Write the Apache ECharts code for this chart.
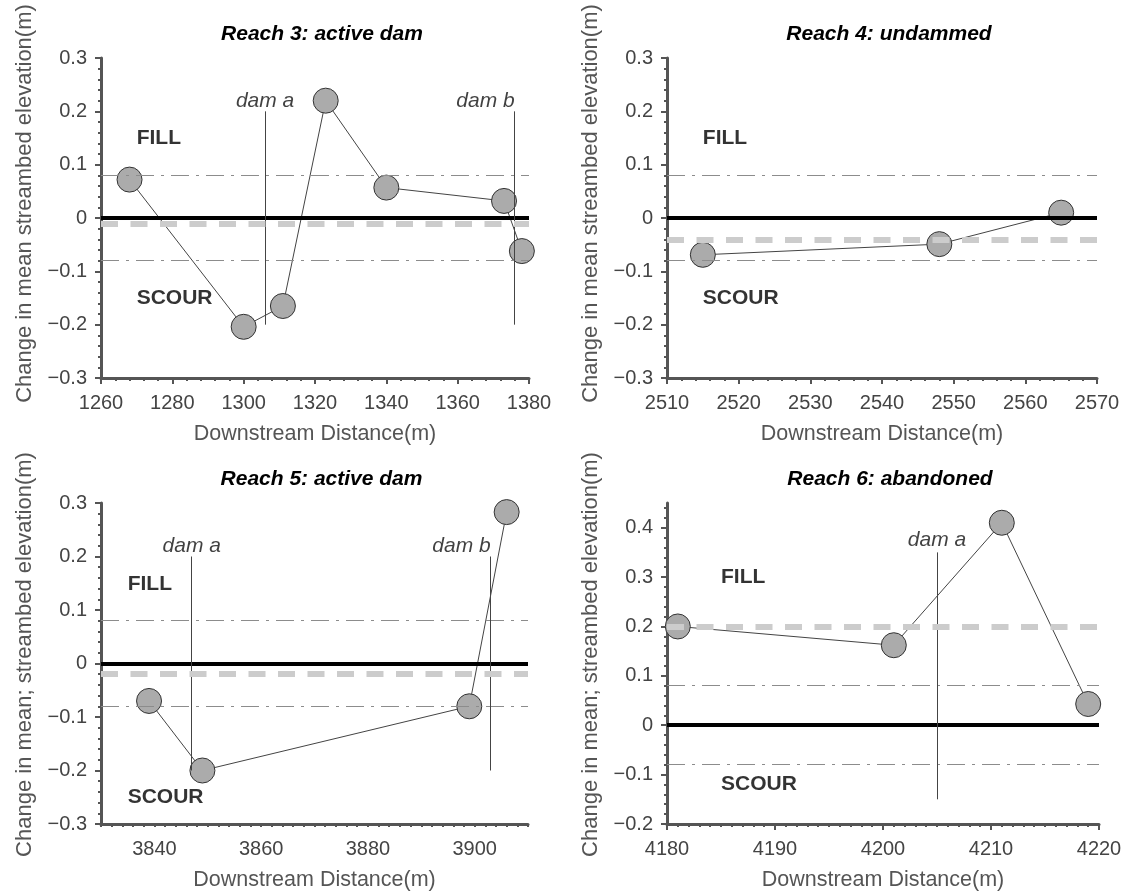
<!DOCTYPE html>
<html>
<head>
<meta charset="utf-8">
<script src="https://cdn.jsdelivr.net/npm/echarts@6/dist/echarts.min.js"></script>
<style>
  html, body { margin: 0; padding: 0; background: #ffffff; }
  #chart { width: 1131px; height: 893px; }
</style>
</head>
<body>
<div id="chart"></div>
<script>
// Survey data: downstream distance (m) and change in mean streambed elevation (m)
const reach3Dist   = [1268, 1300, 1311, 1323, 1340, 1373, 1378];
const reach3Change = [0.072, -0.204, -0.165, 0.22, 0.057, 0.032, -0.062];
const reach3Dams   = [1306, 1376];

const reach4Dist   = [2515, 2548, 2565];
const reach4Change = [-0.069, -0.049, 0.01];
const reach4Dams   = [];

const reach5Dist   = [3839, 3849, 3899, 3906];
const reach5Change = [-0.07, -0.2, -0.08, 0.283];
const reach5Dams   = [3847, 3903];

const reach6Dist   = [4181, 4201, 4211, 4219];
const reach6Change = [0.2, 0.162, 0.41, 0.043];
const reach6Dams   = [4205];

const damNames = ['dam a', 'dam b'];
const detectionLimit = 0.08;   // +/- threshold drawn as dash-dot lines

// tick labels
const reach3XTicks = [1260, 1280, 1300, 1320, 1340, 1360, 1380];
const reach4XTicks = [2510, 2520, 2530, 2540, 2550, 2560, 2570];
const reach5XTicks = [3840, 3860, 3880, 3900];
const reach6XTicks = [4180, 4190, 4200, 4210, 4220];
const yTicksA = [-0.3, -0.2, -0.1, 0, 0.1, 0.2, 0.3];
const yTicksB = [-0.2, -0.1, 0, 0.1, 0.2, 0.3, 0.4];

const FONT = '"Liberation Sans", Arial, Helvetica, sans-serif';
const AXIS_COLOR = '#555555';

const mean = arr => arr.reduce((s, v) => s + v, 0) / arr.length;

const panels = [
  {
    title: 'Reach 3: active dam',
    yName: 'Change in mean streambed elevation(m)', yNameShift: 29,
    grid: { left: 101, top: 58, width: 428, height: 320 },
    x: { min: 1260, max: 1380, interval: 20, minorSplit: 5, labels: reach3XTicks },
    y: { min: -0.3, max: 0.3, labels: yTicksA },
    dist: reach3Dist, change: reach3Change, dams: reach3Dams,
    damSpan: [0.2, -0.2], damLabelY: 0.22, damAlign: ['center', 'right'],
    fill: [1270, 0.15], scour: [1270, -0.15]
  },
  {
    title: 'Reach 4: undammed',
    yName: 'Change in mean streambed elevation(m)', yNameShift: 29,
    grid: { left: 667, top: 58, width: 430, height: 320 },
    x: { min: 2510, max: 2570, interval: 10, minorSplit: 5, labels: reach4XTicks },
    y: { min: -0.3, max: 0.3, labels: yTicksA },
    dist: reach4Dist, change: reach4Change, dams: reach4Dams,
    damSpan: [0.2, -0.2], damLabelY: 0.22, damAlign: [],
    fill: [2515, 0.15], scour: [2515, -0.15]
  },
  {
    title: 'Reach 5: active dam',
    yName: 'Change in mean; streambed elevation(m)', yNameShift: 18,
    grid: { left: 101, top: 503, width: 427, height: 321 },
    x: { min: 3830, max: 3910, interval: 10, minorSplit: 5, labels: reach5XTicks, shortTicks: true },
    y: { min: -0.3, max: 0.3, labels: yTicksA },
    dist: reach5Dist, change: reach5Change, dams: reach5Dams,
    damSpan: [0.2, -0.2], damLabelY: 0.22, damAlign: ['center', 'right'],
    fill: [3835, 0.148], scour: [3835, -0.25]
  },
  {
    title: 'Reach 6: abandoned',
    yName: 'Change in mean; streambed elevation(m)', yNameShift: 18,
    grid: { left: 667, top: 503, width: 432, height: 321 },
    x: { min: 4180, max: 4220, interval: 10, minorSplit: 10, labels: reach6XTicks },
    y: { min: -0.2, max: 0.45, labels: yTicksB },
    dist: reach6Dist, change: reach6Change, dams: reach6Dams,
    damSpan: [0.35, -0.15], damLabelY: 0.375, damAlign: ['center'],
    fill: [4185, 0.30], scour: [4185, -0.12]
  }
];

const fmtY = v => {
  const r = Math.round(v * 10) / 10;
  return r === 0 ? '0' : String(r).replace('-', '\u2212');
};
const fmtX = v => String(Math.round(v));

const option = {
  animation: false,
  backgroundColor: '#ffffff',
  textStyle: { fontFamily: FONT },
  title: [],
  grid: [],
  xAxis: [],
  yAxis: [],
  series: []
};

panels.forEach((p, i) => {
  option.grid.push(Object.assign({ containLabel: false, outerBoundsMode: 'none' }, p.grid));

  option.title.push({
    text: p.title,
    left: p.grid.left + p.grid.width / 2 + 7,
    top: p.grid.top - 34,
    textAlign: 'center',
    padding: 0,
    textStyle: { fontFamily: FONT, fontSize: 21, fontWeight: 'bold', fontStyle: 'italic', color: '#000' }
  });

  option.xAxis.push({
    type: 'value',
    gridIndex: i,
    min: p.x.min,
    max: p.x.max,
    interval: p.x.interval,
    name: 'Downstream Distance(m)',
    nameLocation: 'middle',
    nameGap: 45,
    nameTextStyle: { fontFamily: FONT, fontSize: 21.5, color: AXIS_COLOR },
    axisLine: { show: true, onZero: false, lineStyle: { color: AXIS_COLOR, width: 3 } },
    axisTick: {
      show: true,
      inside: false,
      length: p.x.shortTicks ? 3 : 6,
      lineStyle: { color: AXIS_COLOR, width: 2 }
    },
    minorTick: { show: true, splitNumber: p.x.minorSplit, length: 3, lineStyle: { color: AXIS_COLOR, width: 2 } },
    axisLabel: {
      customValues: p.x.labels,
      margin: 15,
      fontFamily: FONT,
      fontSize: 20,
      color: '#444',
      formatter: fmtX
    },
    splitLine: { show: false },
    minorSplitLine: { show: false }
  });

  option.yAxis.push({
    type: 'value',
    gridIndex: i,
    min: p.y.min,
    max: p.y.max,
    interval: 0.1,
    name: p.yName,
    nameLocation: 'middle',
    nameGap: 65,
    nameTextStyle: { fontFamily: FONT, fontSize: 22, color: AXIS_COLOR, padding: [0, 0, 0, p.yNameShift] },
    axisLine: { show: true, onZero: false, lineStyle: { color: AXIS_COLOR, width: 3 } },
    axisTick: { show: true, inside: false, length: 6, customValues: p.y.labels, lineStyle: { color: AXIS_COLOR, width: 2 } },
    minorTick: { show: true, splitNumber: 5, length: 3, lineStyle: { color: AXIS_COLOR, width: 2 } },
    axisLabel: {
      customValues: p.y.labels,
      margin: 14,
      fontFamily: FONT,
      fontSize: 20,
      color: '#444',
      formatter: fmtY
    },
    splitLine: { show: false },
    minorSplitLine: { show: false }
  });

  // zero line, detection limits and dam positions
  const refLines = [
    { yAxis: 0, lineStyle: { color: '#000', width: 4, type: 'solid' } },
    { yAxis: detectionLimit, lineStyle: { color: '#8c8c8c', width: 1, type: [18, 7, 3, 7] } },
    { yAxis: -detectionLimit, lineStyle: { color: '#8c8c8c', width: 1, type: [18, 7, 3, 7] } }
  ];
  p.dams.forEach(d => {
    refLines.push([
      { coord: [d, p.damSpan[0]], lineStyle: { color: '#444', width: 1, type: 'solid' } },
      { coord: [d, p.damSpan[1]] }
    ]);
  });
  option.series.push({
    type: 'line',
    xAxisIndex: i, yAxisIndex: i,
    data: [],
    z: 1,
    silent: true,
    markLine: {
      silent: true,
      symbol: ['none', 'none'],
      label: { show: false },
      animation: false,
      data: refLines
    }
  });

  // measured profile
  option.series.push({
    type: 'line',
    xAxisIndex: i, yAxisIndex: i,
    z: 2,
    silent: true,
    data: p.dist.map((x, k) => [x, p.change[k]]),
    symbol: 'circle',
    symbolSize: 25,
    showAllSymbol: true,
    lineStyle: { color: '#444', width: 1 },
    itemStyle: { color: '#ababab', borderColor: '#333', borderWidth: 1 }
  });

  // reach mean change (grey dashed)
  option.series.push({
    type: 'line',
    xAxisIndex: i, yAxisIndex: i,
    data: [],
    z: 3,
    silent: true,
    markLine: {
      silent: true,
      symbol: ['none', 'none'],
      label: { show: false },
      animation: false,
      data: [{ yAxis: mean(p.change), lineStyle: { color: '#cccccc', width: 6, type: [17, 12.5] } }]
    }
  });

  // FILL / SCOUR and dam labels
  const texts = [
    { value: p.fill, name: 'FILL', label: { align: 'left', fontWeight: 'bold', fontStyle: 'normal', color: '#000' } },
    { value: p.scour, name: 'SCOUR', label: { align: 'left', fontWeight: 'bold', fontStyle: 'normal', color: '#000' } }
  ];
  p.dams.forEach((d, k) => {
    texts.push({
      value: [d, p.damLabelY],
      name: damNames[k],
      label: { align: p.damAlign[k], fontWeight: 'normal', fontStyle: 'italic', color: '#111' }
    });
  });
  option.series.push({
    type: 'scatter',
    xAxisIndex: i, yAxisIndex: i,
    z: 4,
    silent: true,
    symbolSize: 0,
    data: texts,
    label: {
      show: true,
      position: [0, 0],
      verticalAlign: 'middle',
      formatter: '{b}',
      fontFamily: FONT,
      fontSize: 21
    }
  });
});

const chart = echarts.init(document.getElementById('chart'), null, { renderer: 'canvas' });
chart.setOption(option);
</script>
</body>
</html>
